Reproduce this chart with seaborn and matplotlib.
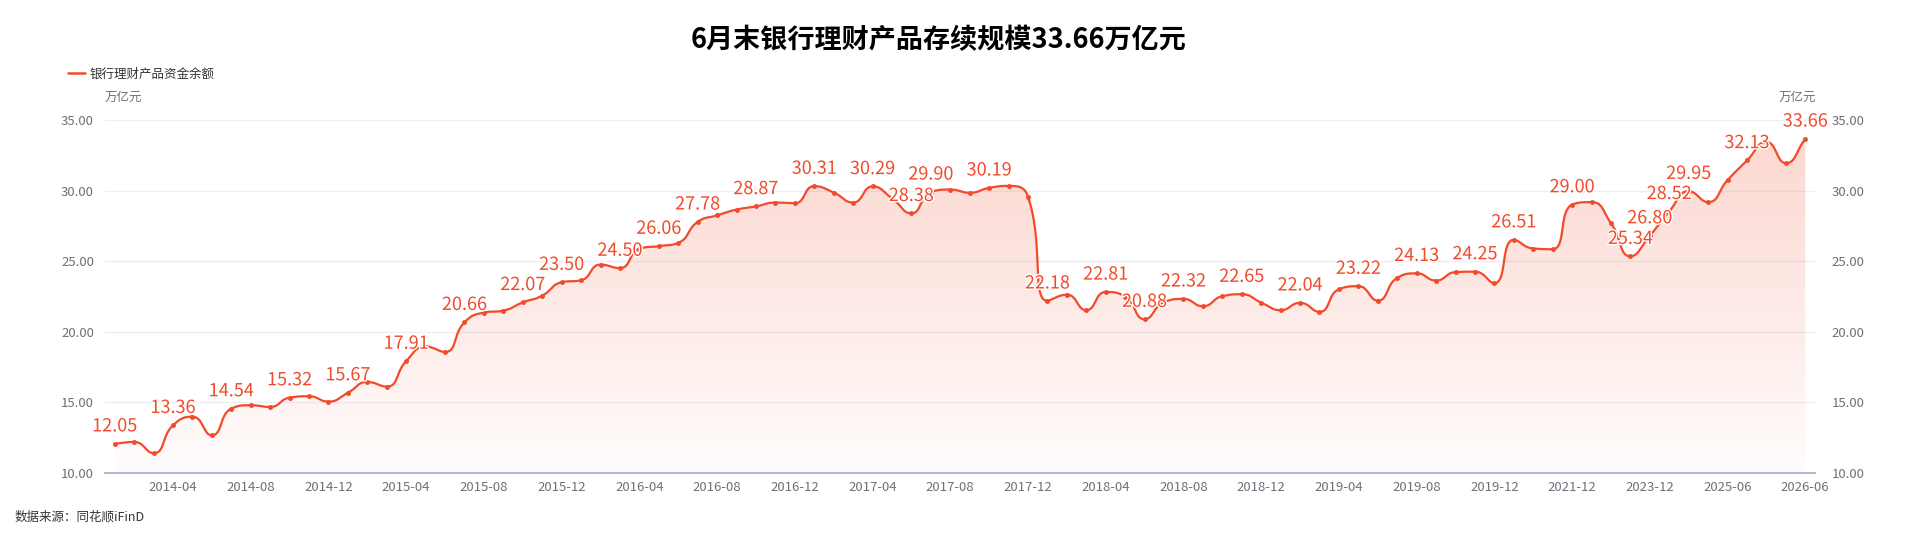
import numpy as np
import pandas as pd
import matplotlib
matplotlib.use("Agg")
import matplotlib.pyplot as plt
import seaborn as sns
from matplotlib import patheffects
from matplotlib.lines import Line2D

# monthly points 2014-01 .. 2019-12, then half-yearly / quarterly points
monthly_dates = list(pd.date_range("2014-01", "2019-12", freq="MS").strftime("%Y-%m"))
later_dates = ["2020-06", "2020-12", "2021-06", "2021-12", "2022-06", "2022-12",
               "2023-06", "2023-12", "2024-06", "2024-12", "2025-03", "2025-06",
               "2025-09", "2025-12", "2026-03", "2026-06"]
dates = monthly_dates + later_dates

balance = [12.05, 12.18, 11.38, 13.36, 13.97, 12.65, 14.54, 14.78, 14.66, 15.32,
           15.42, 15.04, 15.67, 16.43, 16.10, 17.91, 18.94, 18.56, 20.66, 21.35,
           21.49, 22.07, 22.55, 23.50, 23.64, 24.75, 24.50, 25.87, 26.06, 26.29,
           27.78, 28.24, 28.65, 28.87, 29.15, 29.10, 30.31, 29.86, 29.15, 30.29,
           29.45, 28.38, 29.90, 30.07, 29.84, 30.19, 30.33, 29.57, 22.18, 22.62,
           21.52, 22.81, 22.48, 20.88, 22.09, 22.32, 21.80, 22.51, 22.65, 22.06,
           21.52, 22.04, 21.40, 23.00, 23.22, 22.20, 23.81, 24.13, 23.62, 24.22,
           24.25, 23.43, 26.51, 25.89, 25.84, 29.00, 29.18, 27.69, 25.34, 26.80,
           28.52, 29.95, 29.18, 30.74, 32.13, 33.45, 31.94, 33.66]

# points whose value label is shown
labelled = [0, 3, 6, 9, 12, 15, 18, 21, 23, 26, 28, 30, 33, 36, 39, 41, 42, 45,
            48, 51, 53, 55, 58, 61, 64, 67, 70, 72, 75, 78, 79, 80, 81, 84, 87]

title = "6月末银行理财产品存续规模33.66万亿元"
series_name = "银行理财产品资金余额"
unit = "万亿元"
source = "数据来源：同花顺iFinD"

RED = "#F24A2A"
GRAY = "#6E7079"

sns.set_theme(style="white")
plt.rcParams["font.family"] = ["Noto Sans CJK SC", "DejaVu Sans"]

df = pd.DataFrame({"date": dates, "value": balance})
df["pos"] = np.arange(len(df))

W, H = 1920, 541
fig = plt.figure(figsize=(W / 100, H / 100), dpi=100)
ax = fig.add_axes([105 / W, (H - 472.7) / H, 1710 / W, 352.7 / H])
ymin, ymax = 10, 35
n = len(df)


def smooth_curve(x, y, sx, sy, k=0.5, steps=24):
    # echarts-like smoothing, computed in pixel space
    P = np.column_stack([x * sx, y * sy])
    m = len(P)
    cin = P.copy()
    cout = P.copy()
    for i in range(m):
        p = P[i]
        prv = P[i - 1] if i > 0 else p
        nxt = P[i + 1] if i < m - 1 else p
        v = nxt - prv
        d0 = np.hypot(*(p - prv))
        d1 = np.hypot(*(nxt - p))
        if d0 + d1 == 0:
            continue
        r = d1 / (d0 + d1)
        co = p + v * k * r
        co = np.minimum(co, np.maximum(nxt, p))
        co = np.maximum(co, np.minimum(nxt, p))
        if d1 > 0:
            ci = p - (co - p) * d0 / d1
        else:
            ci = p - v * k * (1 - r)
        ci = np.minimum(ci, np.maximum(prv, p))
        ci = np.maximum(ci, np.minimum(prv, p))
        if d0 > 0:
            co = p + (p - ci) * d1 / d0
        cin[i], cout[i] = ci, co
    t = np.linspace(0, 1, steps)[:, None]
    out = []
    for i in range(m - 1):
        a, b, c, d = P[i], cout[i], cin[i + 1], P[i + 1]
        seg = ((1 - t) ** 3) * a + 3 * ((1 - t) ** 2) * t * b + 3 * (1 - t) * t ** 2 * c + t ** 3 * d
        out.append(seg if i == 0 else seg[1:])
    out = np.vstack(out)
    return out[:, 0] / sx, out[:, 1] / sy


sx = 1710 / n
sy = 352.7 / (ymax - ymin)
xs, ys = smooth_curve(df["pos"].to_numpy(float), df["value"].to_numpy(float), sx, sy)
curve = pd.DataFrame({"x": xs, "y": ys})

# gradient area under the line
area = ax.fill_between(xs, ys, ymin, color="none", lw=0)
grad = np.zeros((256, 1, 4))
grad[:, 0, :3] = matplotlib.colors.to_rgb(RED)
grad[:, 0, 3] = np.linspace(0.22, 0.015, 256)
im = ax.imshow(grad, extent=[xs.min(), xs.max(), ymin, ys.max()],
               aspect="auto", origin="upper", zorder=1, interpolation="bilinear")
im.set_clip_path(area.get_paths()[0], transform=ax.transData)

sns.lineplot(data=curve, x="x", y="y", ax=ax, color=RED, lw=1.6, sort=False,
             estimator=None, zorder=3)
sns.scatterplot(data=df, x="pos", y="value", ax=ax, color=RED, s=9,
                edgecolor=RED, linewidth=0.5, zorder=4)

for i in labelled:
    ax.annotate(f"{balance[i]:.2f}", (i, balance[i]), xytext=(0, 12.5),
                textcoords="offset points", ha="center", va="center",
                fontsize=13, color=RED, zorder=5,
                path_effects=[patheffects.withStroke(linewidth=2, foreground="white")])

ax.set_xlim(-0.5, n - 0.5)
ax.set_ylim(ymin, ymax)
yt = np.arange(10, 36, 5)
ax.set_yticks(yt)
ax.set_yticklabels([f"{v:.2f}" for v in yt])
ticks = list(range(3, n, 4))
ax.set_xticks(ticks)
ax.set_xticklabels([dates[i] for i in ticks])
ax.tick_params(axis="x", length=0, pad=6, labelsize=9.5, labelcolor=GRAY)
ax.tick_params(axis="y", length=0, pad=8, labelsize=9.5, labelcolor=GRAY)
ax.set_xlabel("")
ax.set_ylabel("")
for v in yt[1:]:
    ax.axhline(v, color="#EDEFF5", lw=1, zorder=0)
for s in ["top", "right", "left"]:
    ax.spines[s].set_visible(False)
ax.spines["bottom"].set_color("#A9B1CB")
ax.spines["bottom"].set_linewidth(1.3)
ax.spines["bottom"].set_zorder(6)

ax2 = ax.twinx()
ax2.set_ylim(ymin, ymax)
ax2.set_yticks(yt)
ax2.set_yticklabels([f"{v:.2f}" for v in yt])
ax2.tick_params(axis="y", length=0, pad=12, labelsize=9.5, labelcolor=GRAY)
for s in ax2.spines.values():
    s.set_visible(False)
ax2.grid(False)

fig.text(939 / W, 1 - 40 / H, title, ha="center", va="center", fontsize=19.5,
         fontweight="bold", color="black")
handle = Line2D([], [], color=RED, lw=1.8)
ax.legend([handle], [series_name], loc="center left",
          bbox_to_anchor=(68 / W, 1 - 74 / H), bbox_transform=fig.transFigure,
          frameon=False, fontsize=9, handlelength=1.35, handletextpad=0.35,
          borderpad=0, borderaxespad=0, labelcolor="#333333")
fig.text(123 / W, 1 - 97 / H, unit, ha="center", va="center", fontsize=9, color=GRAY)
fig.text(1797 / W, 1 - 97 / H, unit, ha="center", va="center", fontsize=9, color=GRAY)
fig.text(15 / W, 1 - 517 / H, source, ha="left", va="center", fontsize=9, color="#333333")

fig.savefig("out.png", dpi=100)
